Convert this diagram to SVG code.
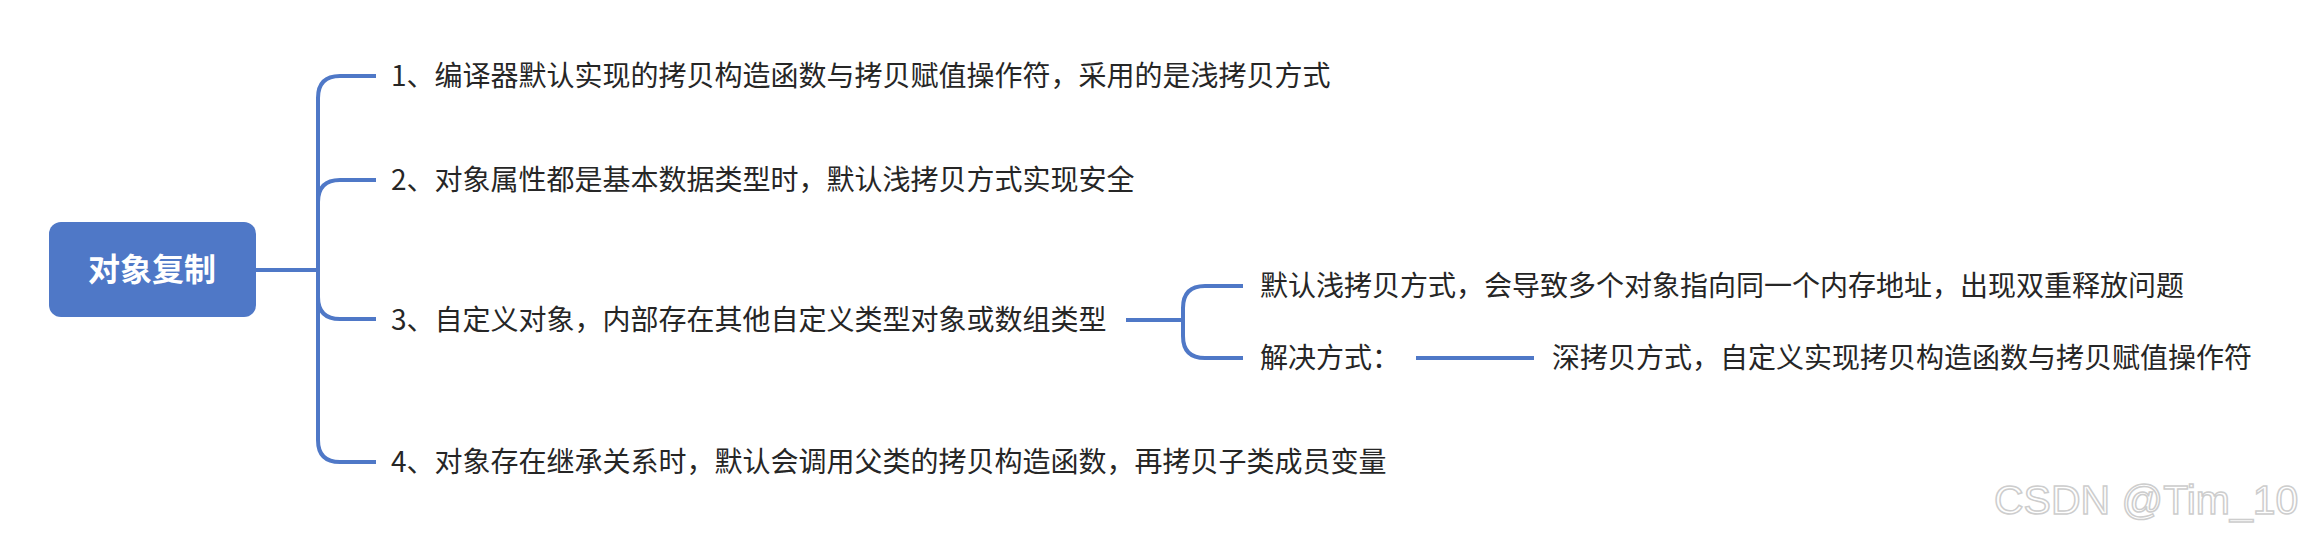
<svg xmlns="http://www.w3.org/2000/svg" width="2316" height="540" viewBox="0 0 2316 540">
<style>
.c{fill:none;stroke:#4f78c7;stroke-width:4;stroke-linecap:butt}
.t{font-family:"Noto Sans CJK SC","Liberation Sans",sans-serif;font-size:28px;fill:#262626}
.r{font-family:"Noto Sans CJK SC","Liberation Sans",sans-serif;font-size:32px;font-weight:bold;fill:#fff}
.w{font-family:"Liberation Sans",sans-serif;font-size:41px;fill:#fff;stroke:#c8c8c8;stroke-width:1.5;opacity:0.9}
</style>
<rect width="2316" height="540" fill="#fff"/>
<g id="connectors">
<path class="c" d="M255 270H318"/>
<path class="c" d="M376 76H340Q318 76 318 98V440Q318 462 340 462H376"/>
<path class="c" d="M318 202Q318 180 340 180H376"/>
<path class="c" d="M318 297Q318 319 340 319H376"/>
<path class="c" d="M1126 320H1183"/>
<path class="c" d="M1243 286H1205Q1183 286 1183 308V336Q1183 358 1205 358H1243"/>
<path class="c" d="M1416 358H1534"/>
</g>
<g id="root">
<rect x="49" y="222" width="207" height="95" rx="12" fill="#4f78c7"/>
<text class="r" x="152" y="281" text-anchor="middle">对象复制</text>
</g>
<g id="n1"><text class="t" x="391" y="86">1、编译器默认实现的拷贝构造函数与拷贝赋值操作符，采用的是浅拷贝方式</text></g>
<g id="n2"><text class="t" x="391" y="190">2、对象属性都是基本数据类型时，默认浅拷贝方式实现安全</text></g>
<g id="n3"><text class="t" x="391" y="330">3、自定义对象，内部存在其他自定义类型对象或数组类型</text></g>
<g id="n4"><text class="t" x="391" y="472">4、对象存在继承关系时，默认会调用父类的拷贝构造函数，再拷贝子类成员变量</text></g>
<g id="n31"><text class="t" x="1260" y="296">默认浅拷贝方式，会导致多个对象指向同一个内存地址，出现双重释放问题</text></g>
<g id="n32"><text class="t" x="1260" y="368">解决方式：</text></g>
<g id="n321"><text class="t" x="1552" y="368">深拷贝方式，自定义实现拷贝构造函数与拷贝赋值操作符</text></g>
<text class="w" x="1994" y="514">CSDN @Tim_10</text>
</svg>
